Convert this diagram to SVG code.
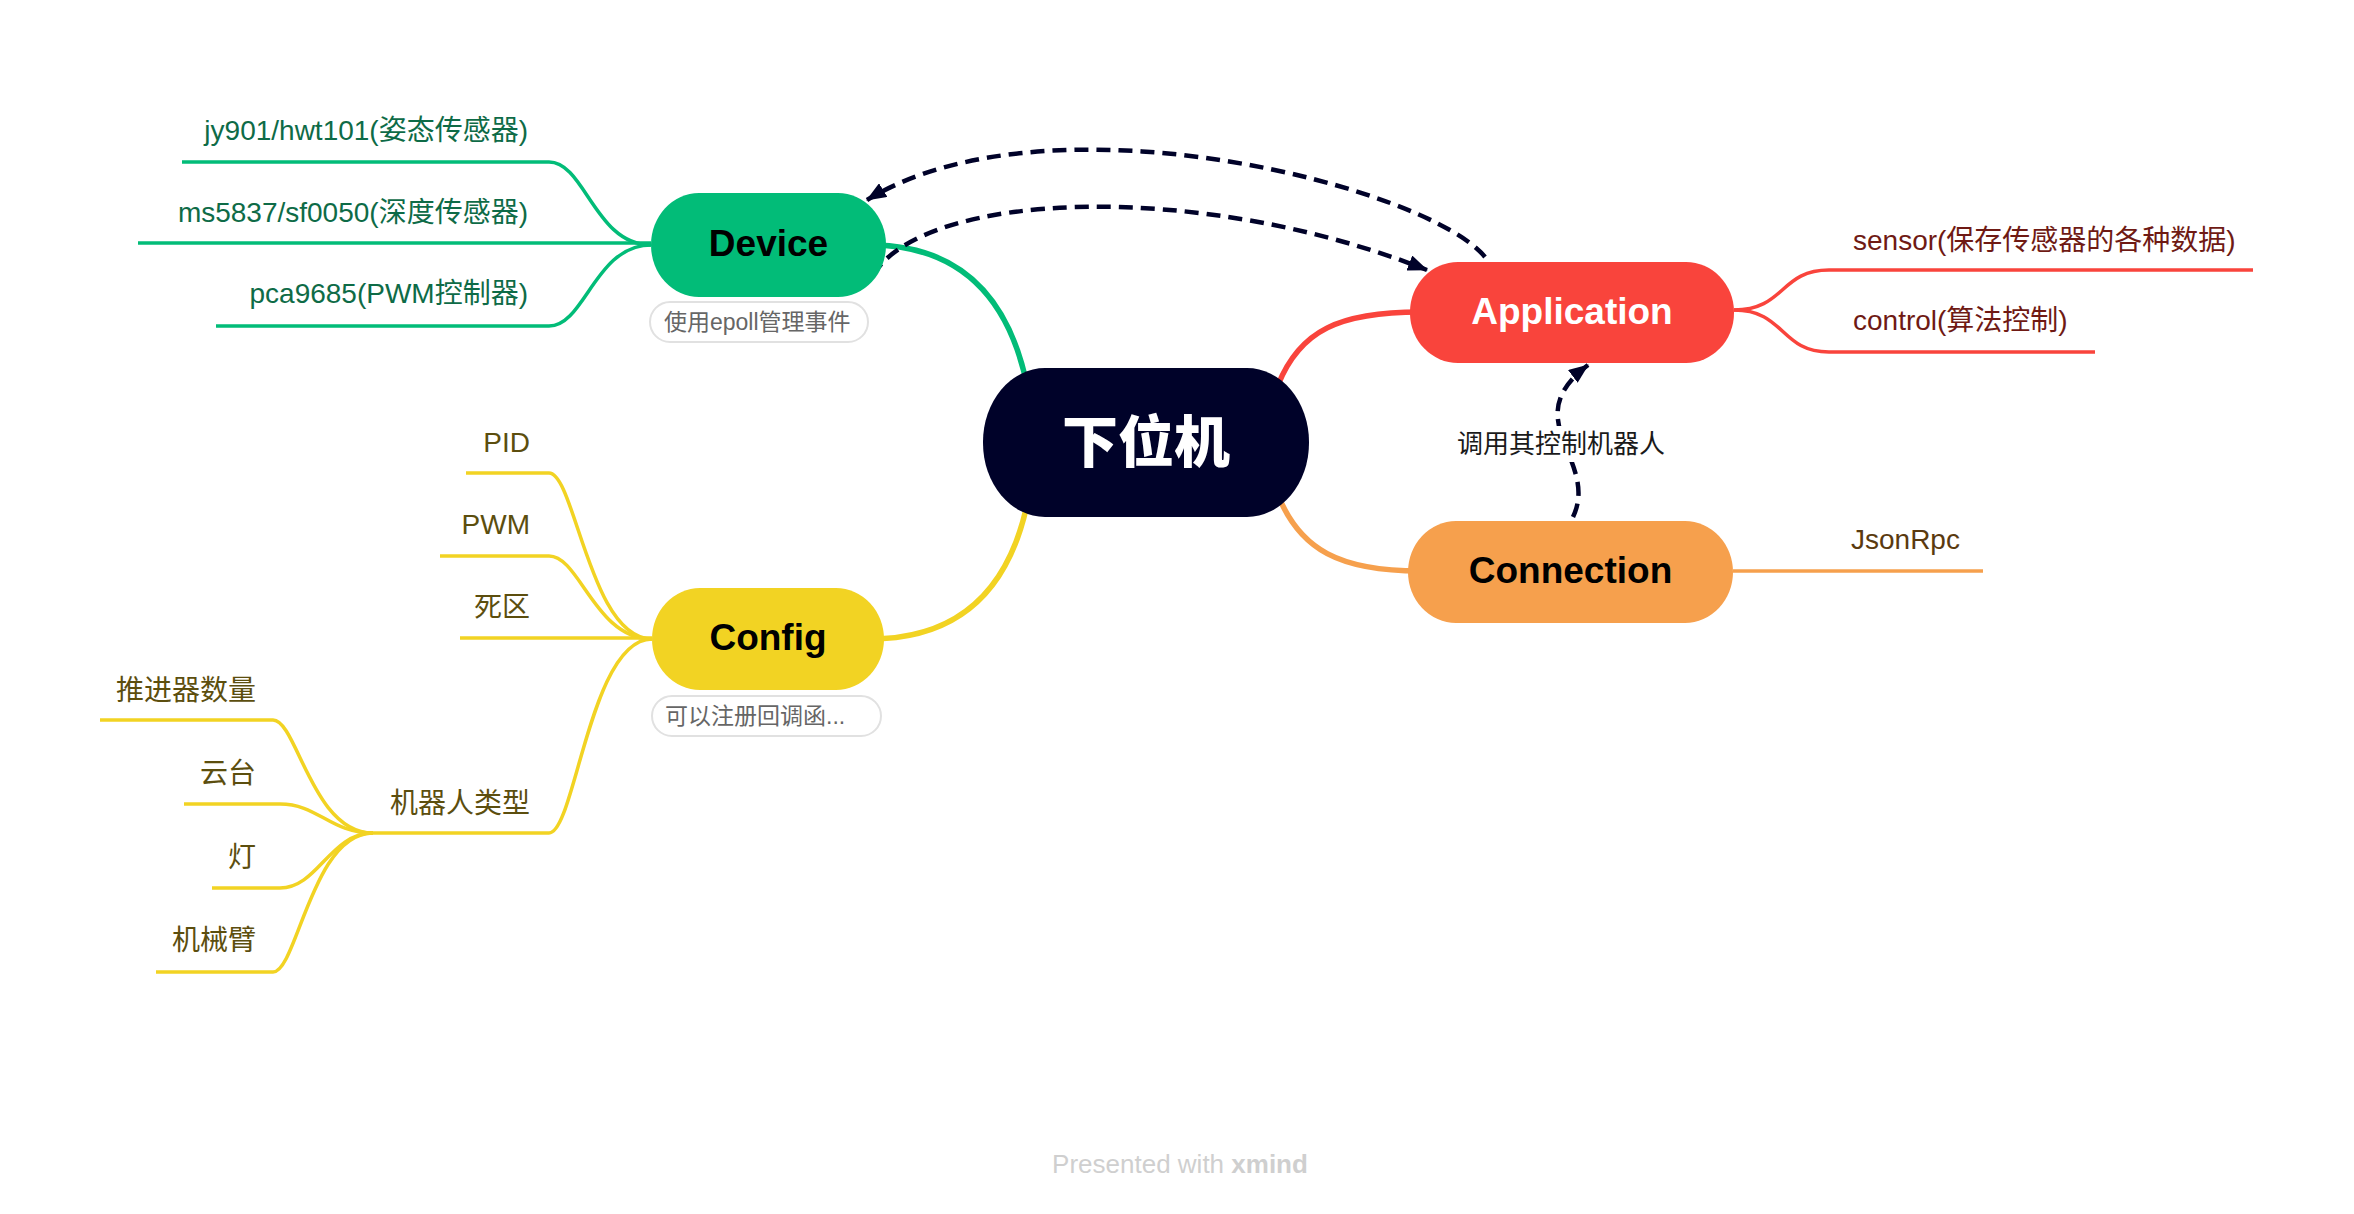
<svg xmlns="http://www.w3.org/2000/svg" width="2354" height="1214" viewBox="0 0 2354 1214">
<style>
.t{font-family:"Liberation Sans","Noto Sans CJK SC",sans-serif}
.node{font-family:"Liberation Sans","Noto Sans CJK SC",sans-serif;font-weight:bold;font-size:37px;text-anchor:middle}
.child{font-family:"Liberation Sans","Noto Sans CJK SC",sans-serif;font-size:28px}
.note{font-family:"Liberation Sans","Noto Sans CJK SC",sans-serif;font-size:23px;fill:#666}
.notebox{fill:#fff;stroke:#E1E1E1;stroke-width:2}
.main{fill:none;stroke-width:5.5}
.sub{fill:none;stroke-width:3.5}
.rel{fill:none;stroke:#000229;stroke-width:4.5;stroke-dasharray:14 8}
.g{stroke:#02BC78}.r{stroke:#F9443C}.o{stroke:#F6A04D}.y{stroke:#F2D323}
</style>
<defs>
<marker id="arr" markerUnits="userSpaceOnUse" viewBox="0 0 20 16" markerWidth="20" markerHeight="16" refX="19" refY="8" orient="auto">
<path d="M0,0 L20,8 L0,16 z" fill="#000229"/>
</marker>
</defs>
<rect width="2354" height="1214" fill="#fff"/>

<g id="connectors">
<path class="main g" d="M 870 245 Q 1000 245 1028 390"/>
<path class="main r" d="M 1278 385 C 1300 330 1340 312 1420 312"/>
<path class="main o" d="M 1278 495 C 1300 550 1340 571 1420 571"/>
<path class="main y" d="M 1028 500 Q 1000 639 870 639"/>
<path class="sub g" d="M 182 162 L 549 162 C 585 162 595 245 651 245"/>
<path class="sub g" d="M 138 243 L 651 243"/>
<path class="sub g" d="M 216 326 L 549 326 C 585 326 595 245 651 245"/>
<path class="sub r" d="M 1734 310 C 1785 310 1780 270 1829 270 L 2253 270"/>
<path class="sub r" d="M 1734 310 C 1785 310 1780 352 1829 352 L 2095 352"/>
<path class="sub o" d="M 1733 571 L 1983 571"/>
<path class="sub y" d="M 466 473 L 549 473 C 575 473 590 639 652 639"/>
<path class="sub y" d="M 440 556 L 549 556 C 580 556 595 639 652 639"/>
<path class="sub y" d="M 460 638 L 652 638"/>
<path class="sub y" d="M 373 833 L 549 833 C 575 833 590 639 652 639"/>
<path class="sub y" d="M 100 720 L 273 720 C 297 720 312 833 373 833"/>
<path class="sub y" d="M 184 804 L 280 804 C 318 804 330 833 373 833"/>
<path class="sub y" d="M 212 888 L 280 888 C 318 888 330 833 373 833"/>
<path class="sub y" d="M 156 972 L 273 972 C 297 972 312 833 373 833"/>
<path class="rel" d="M 1485 257 C 1430 188 1050 88 867 200" marker-end="url(#arr)"/>
<path class="rel" d="M 873 275 C 925 190 1200 180 1427 270" marker-end="url(#arr)"/>
<path class="rel" d="M 1573 517 C 1600 460 1515 420 1588 365" marker-end="url(#arr)"/>
<rect x="1455" y="426" width="212" height="36" fill="#fff"/>
<text class="t" x="1561" y="453" font-size="26" fill="#1a1a1a" text-anchor="middle">调用其控制机器人</text>
</g>

<g id="root">
<rect x="983" y="368" width="326" height="149" rx="62" ry="74" fill="#000229"/>
<text x="1146" y="462" font-family="'Noto Sans CJK SC',sans-serif" font-weight="900" font-size="56" fill="#fff" text-anchor="middle">下位机</text>
</g>

<g id="device">
<rect x="651" y="193" width="235" height="104" rx="48" ry="52" fill="#02BC78"/>
<text class="node" x="768.5" y="256" fill="#000">Device</text>
<rect class="notebox" x="650" y="302" width="218" height="40" rx="20"/>
<text class="note" x="664" y="330">使用epoll管理事件</text>
</g>

<g id="application">
<rect x="1410" y="262" width="324" height="101" rx="48" ry="50" fill="#F9443C"/>
<text class="node" x="1572" y="324" fill="#fff">Application</text>
</g>

<g id="connection">
<rect x="1408" y="521" width="325" height="102" rx="48" ry="51" fill="#F6A04D"/>
<text class="node" x="1570.5" y="583" fill="#000">Connection</text>
</g>

<g id="config">
<rect x="652" y="588" width="232" height="102" rx="48" ry="51" fill="#F2D323"/>
<text class="node" x="768" y="650" fill="#000">Config</text>
<rect class="notebox" x="652" y="696" width="229" height="40" rx="20"/>
<text class="note" x="665" y="724">可以注册回调函...</text>
</g>

<g id="device-children" fill="#0E6B47">
<text class="child" x="528" y="140" text-anchor="end">jy901/hwt101(姿态传感器)</text>
<text class="child" x="528" y="222" text-anchor="end">ms5837/sf0050(深度传感器)</text>
<text class="child" x="528" y="303" text-anchor="end">pca9685(PWM控制器)</text>
</g>

<g id="application-children" fill="#6F1A14">
<text class="child" x="1853" y="250">sensor(保存传感器的各种数据)</text>
<text class="child" x="1853" y="330">control(算法控制)</text>
</g>

<g id="connection-children" fill="#5A3A10">
<text class="child" x="1851" y="549">JsonRpc</text>
</g>

<g id="config-children" fill="#5C4E0E">
<text class="child" x="530" y="452" text-anchor="end">PID</text>
<text class="child" x="530" y="534" text-anchor="end">PWM</text>
<text class="child" x="530" y="617" text-anchor="end">死区</text>
<text class="child" x="530" y="813" text-anchor="end">机器人类型</text>
</g>

<g id="robot-type-children" fill="#5C4E0E">
<text class="child" x="256" y="700" text-anchor="end">推进器数量</text>
<text class="child" x="256" y="783" text-anchor="end">云台</text>
<text class="child" x="256" y="867" text-anchor="end">灯</text>
<text class="child" x="256" y="950" text-anchor="end">机械臂</text>
</g>

<g id="footer">
<text class="t" x="1180" y="1173" font-size="26" fill="#CFCFCF" text-anchor="middle">Presented with <tspan font-weight="bold">xmind</tspan></text>
</g>
</svg>
